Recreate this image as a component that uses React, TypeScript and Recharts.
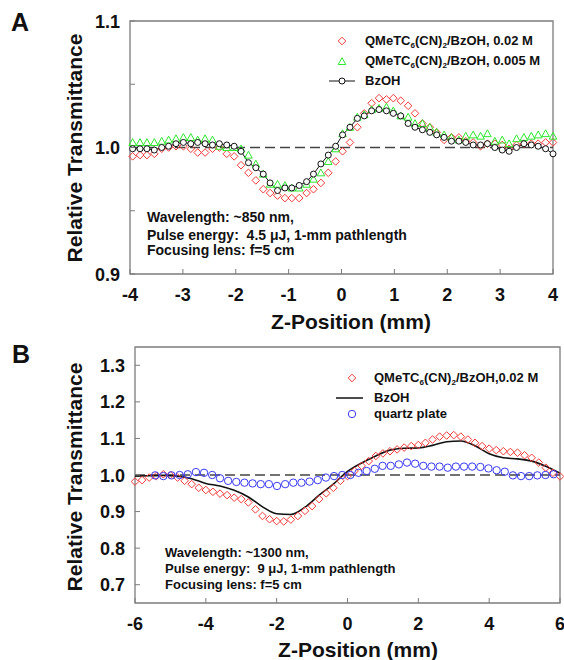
import React from 'react';
import { ComposedChart, Scatter, Line, XAxis, YAxis, ReferenceLine, ReferenceArea } from 'recharts';

const FONT = '"Liberation Sans", Arial, Helvetica, sans-serif';
const AXIS = '#7c7c7c';
const RED = '#f23a3a';
const GREEN = '#2ee82e';
const BLUE = '#3a3af2';

// ---- panel A: ~850 nm ----
const zA = [
  -3.95, -3.81, -3.68, -3.54, -3.40, -3.27, -3.13, -2.99, -2.85, -2.72,
  -2.58, -2.44, -2.31, -2.17, -2.03, -1.90, -1.76, -1.62, -1.48, -1.35,
  -1.21, -1.07, -0.94, -0.80, -0.66, -0.53, -0.39, -0.25, -0.11, 0.02,
  0.16, 0.30, 0.43, 0.57, 0.71, 0.85, 0.98, 1.12, 1.26, 1.39,
  1.53, 1.67, 1.80, 1.94, 2.08, 2.22, 2.35, 2.49, 2.63, 2.76,
  2.90, 3.04, 3.17, 3.31, 3.45, 3.59, 3.72, 3.86, 4.00,
];
const tA_002 = [
  0.993, 0.994, 0.994, 0.995, 0.999, 1.0, 1.001, 1.001, 0.999, 0.996,
  0.996, 0.999, 1.0, 0.995, 0.993, 0.986, 0.98, 0.974, 0.967, 0.964,
  0.962, 0.96, 0.96, 0.96, 0.964, 0.967, 0.972, 0.98, 0.989, 0.997,
  1.004, 1.016, 1.027, 1.035, 1.039, 1.038, 1.039, 1.037, 1.033, 1.027,
  1.019, 1.016, 1.012, 1.006, 1.008, 1.008, 1.005, 1.004, 1.001, 1.003,
  1.003, 1.002, 0.999, 1.002, 1.003, 1.003, 1.003, 1.004, 1.004,
];
const tA_0005 = [
  1.004, 1.004, 1.004, 1.004, 1.005, 1.006, 1.007, 1.008, 1.008, 1.006,
  1.007, 1.006, 1.001, 1.0, 1.0, 0.999, 0.994, 0.987, 0.979, 0.971,
  0.971, 0.97, 0.968, 0.968, 0.971, 0.975, 0.98, 0.989, 0.999, 1.011,
  1.016, 1.024, 1.026, 1.03, 1.031, 1.032, 1.029, 1.025, 1.024, 1.019,
  1.019, 1.016, 1.012, 1.01, 1.008, 1.006, 1.009, 1.01, 1.009, 1.011,
  1.005, 1.006, 1.003, 1.007, 1.008, 1.009, 1.01, 1.011, 1.009,
];
const tA_bzoh = [
  0.999, 0.999, 0.999, 0.998, 1.0, 1.001, 1.003, 1.004, 1.003, 1.004,
  1.003, 1.002, 1.003, 1.002, 1.001, 0.997, 0.988, 0.984, 0.979, 0.972,
  0.966, 0.968, 0.968, 0.97, 0.973, 0.979, 0.987, 0.994, 1.001, 1.01,
  1.016, 1.023, 1.025, 1.029, 1.03, 1.029, 1.027, 1.025, 1.019, 1.016,
  1.014, 1.012, 1.01, 1.008, 1.005, 1.005, 1.004, 1.002, 1.002, 1.003,
  1.0, 0.998, 0.997, 1.0, 1.003, 1.002, 1.001, 0.999, 0.995,
];
const xTicksA = [-4, -3, -2, -1, 0, 1, 2, 3, 4];
const yTicksA = [0.9, 0.95, 1.0, 1.05, 1.1];
const yLabelsA = [0.9, 1.0, 1.1];

// ---- panel B: ~1300 nm ----
const zB_002 = [
  -6.0, -5.8, -5.6, -5.4, -5.2, -5.0, -4.8, -4.6, -4.4, -4.2,
  -4.0, -3.8, -3.6, -3.4, -3.2, -3.0, -2.8, -2.6, -2.4, -2.2,
  -2.0, -1.8, -1.6, -1.4, -1.2, -1.0, -0.8, -0.6, -0.4, -0.2,
  0.0, 0.2, 0.4, 0.6, 0.8, 1.0, 1.2, 1.4, 1.6, 1.8,
  2.0, 2.2, 2.4, 2.6, 2.8, 3.0, 3.2, 3.4, 3.6, 3.8,
  4.0, 4.2, 4.4, 4.6, 4.8, 5.0, 5.2, 5.4, 5.6, 5.8, 6.0,
];
const tB_002 = [
  0.982, 0.986, 0.993, 0.997, 1.002, 1.0, 0.993, 0.984, 0.975, 0.965,
  0.959, 0.954, 0.949, 0.945, 0.938, 0.934, 0.925, 0.906, 0.888, 0.879,
  0.874, 0.873, 0.878, 0.888, 0.902, 0.915, 0.934, 0.95, 0.965, 0.984,
  0.997, 1.011, 1.025, 1.038, 1.052, 1.059, 1.065, 1.07, 1.075, 1.079,
  1.082, 1.088, 1.097, 1.105, 1.108, 1.109, 1.105, 1.097, 1.088, 1.079,
  1.072, 1.068, 1.065, 1.063, 1.061, 1.054, 1.047, 1.034, 1.02, 1.006, 0.996,
];
const zB_bzoh = [
  -6.0, -5.6, -5.2, -4.8, -4.4, -4.0, -3.6, -3.2, -2.8, -2.4,
  -2.0, -1.6, -1.2, -0.8, -0.4, 0.0, 0.4, 0.8, 1.2, 1.6,
  2.0, 2.4, 2.8, 3.2, 3.6, 4.0, 4.4, 4.8, 5.2, 5.6, 6.0,
];
const tB_bzoh = [
  0.997, 0.998, 0.999, 0.997, 0.99, 0.977, 0.97, 0.958, 0.94, 0.913,
  0.894, 0.892, 0.912, 0.945, 0.975, 1.01, 1.033, 1.052, 1.068, 1.073,
  1.074, 1.081, 1.091, 1.093, 1.08, 1.058, 1.047, 1.044, 1.038, 1.024, 1.005,
];
const zB_quartz = [
  -5.43, -5.2, -4.97, -4.74, -4.51, -4.28, -4.05, -3.82, -3.6, -3.37,
  -3.14, -2.91, -2.68, -2.45, -2.22, -1.99, -1.76, -1.53, -1.3, -1.07,
  -0.84, -0.61, -0.38, -0.15, 0.08, 0.31, 0.54, 0.77, 0.99, 1.22,
  1.45, 1.68, 1.91, 2.14, 2.37, 2.6, 2.83, 3.06, 3.29, 3.52,
  3.75, 3.98, 4.21, 4.44, 4.67, 4.9, 5.13, 5.36, 5.59, 5.82,
];
const tB_quartz = [
  0.999, 0.997, 0.999, 1.0, 1.002, 1.008, 1.006, 1.0, 0.991, 0.984,
  0.981, 0.979, 0.977, 0.975, 0.975, 0.97, 0.975, 0.979, 0.979, 0.982,
  0.986, 0.993, 0.997, 1.0, 1.0, 1.006, 1.011, 1.017, 1.025, 1.025,
  1.029, 1.034, 1.031, 1.025, 1.023, 1.023, 1.02, 1.023, 1.023, 1.023,
  1.022, 1.018, 1.013, 1.009, 0.999, 0.997, 0.997, 0.999, 1.0, 1.002,
];
const xTicksB = [-6, -4, -2, 0, 2, 4, 6];
const yTicksB = [0.7, 0.8, 0.9, 1.0, 1.1, 1.2, 1.3];

const pts = (xs: number[], ys: number[]) => xs.map((x, i) => ({ x, y: ys[i] }));

const diamond = (color: string, r: number) => (p: any) => (
  <polygon
    points={`${p.cx},${p.cy - r} ${p.cx + r},${p.cy} ${p.cx},${p.cy + r} ${p.cx - r},${p.cy}`}
    fill="none" stroke={color} strokeWidth={1}
  />
);
const triangle = (color: string, r: number) => (p: any) => (
  <polygon
    points={`${p.cx},${p.cy - r} ${p.cx + r},${p.cy + r * 0.8} ${p.cx - r},${p.cy + r * 0.8}`}
    fill="none" stroke={color} strokeWidth={1}
  />
);
const ring = (color: string, r: number) => (p: any) => (
  <circle cx={p.cx} cy={p.cy} r={r} fill="none" stroke={color} strokeWidth={1} />
);

// inward ticks, labels outside
const xTick = (dy: number) => (p: any) => (
  <g>
    <line x1={p.x} x2={p.x} y1={p.y} y2={p.y - 5} stroke={AXIS} />
    <text x={p.x} y={p.y + dy} textAnchor="middle" fontSize={18} fontWeight="bold" fill="#111" fontFamily={FONT}>
      {p.payload.value}
    </text>
  </g>
);
const yTick = (labels: number[] | null) => (p: any) => {
  const v = p.payload.value;
  const show = labels ? labels.some((l) => Math.abs(l - v) < 1e-6) : true;
  return (
    <g>
      <line x1={p.x} x2={p.x + 5} y1={p.y} y2={p.y} stroke={AXIS} />
      {show && (
        <text x={p.x - 10} y={p.y + 6.5} textAnchor="end" fontSize={18} fontWeight="bold" fill="#111" fontFamily={FONT}>
          {v.toFixed(1)}
        </text>
      )}
    </g>
  );
};

const txt: React.CSSProperties = {
  position: 'absolute', fontFamily: FONT, fontWeight: 'bold', color: '#111', whiteSpace: 'nowrap',
};

const Sub = ({ children }: { children: React.ReactNode }) => (
  <span style={{ fontSize: '0.62em', position: 'relative', top: '0.35em' }}>{children}</span>
);

const Compound = ({ tail }: { tail: string }) => (
  <>QMeTC<Sub>6</Sub>(CN)<Sub>2</Sub>/BzOH{tail}</>
);

const Row = ({ cy, x, marker, children }: { cy: number; x: number; marker: React.ReactNode; children: React.ReactNode }) => (
  <>
    <svg style={{ position: 'absolute', left: x - 40, top: cy - 8 }} width={40} height={16}>{marker}</svg>
    <div style={{ ...txt, left: x, top: cy - 8, fontSize: 13, lineHeight: '16px' }}>{children}</div>
  </>
);

const App = () => {
  return (
    <div style={{ position: 'absolute', left: 0, top: 0, width: 564, height: 660, background: '#fff' }}>
      {/* Panel A */}
      <div style={{ position: 'absolute', left: 0, top: 0 }}>
        <ComposedChart width={564} height={330} margin={{ top: 21, right: 11, left: 0, bottom: 0 }}>
          <XAxis type="number" dataKey="x" domain={[-4, 4]} ticks={xTicksA} interval={0}
            axisLine={false} tickLine={false} tickSize={0} tickMargin={0} height={56} tick={xTick(27)} />
          <YAxis type="number" dataKey="y" domain={[0.9, 1.1]} ticks={yTicksA} interval={0}
            axisLine={false} tickLine={false} tickSize={0} tickMargin={0} width={130} tick={yTick(yLabelsA)} />
          <ReferenceArea x1={-4} x2={4} y1={0.9} y2={1.1} fill="none" stroke={AXIS} strokeWidth={1.3} />
          <ReferenceLine y={1} stroke="#444" strokeWidth={1.3} strokeDasharray="10 5" />
          <Scatter name="0.02 M" data={pts(zA, tA_002)} dataKey="y" shape={diamond(RED, 3.8)} isAnimationActive={false} />
          <Scatter name="0.005 M" data={pts(zA, tA_0005)} dataKey="y" shape={triangle(GREEN, 3.8)} isAnimationActive={false} />
          <Line name="BzOH" data={pts(zA, tA_bzoh)} dataKey="y" type="linear" stroke="#111" strokeWidth={1}
            dot={{ r: 3, fill: '#fff', stroke: '#111', strokeWidth: 1 }} isAnimationActive={false} />
        </ComposedChart>
      </div>
      <div style={{ ...txt, left: 11, top: 8, fontSize: 25 }}>A</div>
      <div style={{ ...txt, left: 75, top: 148, fontSize: 21, transform: 'translate(-50%, -50%) rotate(-90deg)' }}>
        Relative Transmittance
      </div>
      <div style={{ ...txt, left: 351, top: 322, fontSize: 21, transform: 'translate(-50%, -50%)' }}>Z-Position (mm)</div>
      <Row cy={41} x={365} marker={diamond(RED, 3.8)({ cx: 17, cy: 8 })}><Compound tail=", 0.02 M" /></Row>
      <Row cy={61} x={365} marker={triangle(GREEN, 3.8)({ cx: 17, cy: 8.5 })}><Compound tail=", 0.005 M" /></Row>
      <Row cy={81} x={365} marker={<>
        <line x1={4} x2={30} y1={8} y2={8} stroke="#111" />
        <circle cx={17} cy={8} r={3} fill="#fff" stroke="#111" />
      </>}>BzOH</Row>
      <div style={{ ...txt, left: 147, top: 208, fontSize: 14, lineHeight: '18px' }}>Wavelength: ~850 nm,</div>
      <div style={{ ...txt, left: 147, top: 226, fontSize: 14, lineHeight: '18px' }}>Pulse energy:&nbsp; 4.5 μJ, 1-mm pathlength</div>
      <div style={{ ...txt, left: 147, top: 241, fontSize: 14, lineHeight: '18px' }}>Focusing lens: f=5 cm</div>

      {/* Panel B */}
      <div style={{ position: 'absolute', left: 0, top: 330 }}>
        <ComposedChart width={564} height={330} margin={{ top: 17, right: 4, left: 0, bottom: 0 }}>
          <XAxis type="number" dataKey="x" domain={[-6, 6]} ticks={xTicksB} interval={0}
            axisLine={false} tickLine={false} tickSize={0} tickMargin={0} height={57} tick={xTick(26.5)} />
          <YAxis type="number" dataKey="y" domain={[0.65, 1.35]} ticks={yTicksB} interval={0}
            axisLine={false} tickLine={false} tickSize={0} tickMargin={0} width={135} tick={yTick(null)} />
          <ReferenceArea x1={-6} x2={6} y1={0.65} y2={1.35} fill="none" stroke={AXIS} strokeWidth={1.3} />
          <ReferenceLine y={1} stroke="#444" strokeWidth={1.3} strokeDasharray="10 5" />
          <Scatter name="0.02 M" data={pts(zB_002, tB_002)} dataKey="y" shape={diamond(RED, 3.8)} isAnimationActive={false} />
          <Line name="BzOH" data={pts(zB_bzoh, tB_bzoh)} dataKey="y" type="monotone" stroke="#111" strokeWidth={1.6}
            dot={false} isAnimationActive={false} />
          <Scatter name="quartz plate" data={pts(zB_quartz, tB_quartz)} dataKey="y" shape={ring(BLUE, 3.7)} isAnimationActive={false} />
        </ComposedChart>
      </div>
      <div style={{ ...txt, left: 12, top: 340, fontSize: 25 }}>B</div>
      <div style={{ ...txt, left: 75, top: 477, fontSize: 21, transform: 'translate(-50%, -50%) rotate(-90deg)' }}>
        Relative Transmittance
      </div>
      <div style={{ ...txt, left: 358, top: 650, fontSize: 21, transform: 'translate(-50%, -50%)' }}>Z-Position (mm)</div>
      <Row cy={378} x={374} marker={diamond(RED, 3.8)({ cx: 18, cy: 8 })}><Compound tail=",0.02 M" /></Row>
      <Row cy={398} x={374} marker={<line x1={2} x2={29} y1={8} y2={8} stroke="#111" strokeWidth={1.5} />}>BzOH</Row>
      <Row cy={414} x={374} marker={ring(BLUE, 3.7)({ cx: 18, cy: 8 })}>quartz plate</Row>
      <div style={{ ...txt, left: 165, top: 545, fontSize: 13, lineHeight: '16px' }}>Wavelength: ~1300 nm,</div>
      <div style={{ ...txt, left: 165, top: 561, fontSize: 13, lineHeight: '16px' }}>Pulse energy:&nbsp; 9 μJ, 1-mm pathlength</div>
      <div style={{ ...txt, left: 165, top: 577, fontSize: 13, lineHeight: '16px' }}>Focusing lens: f=5 cm</div>
    </div>
  );
};

export default App;
